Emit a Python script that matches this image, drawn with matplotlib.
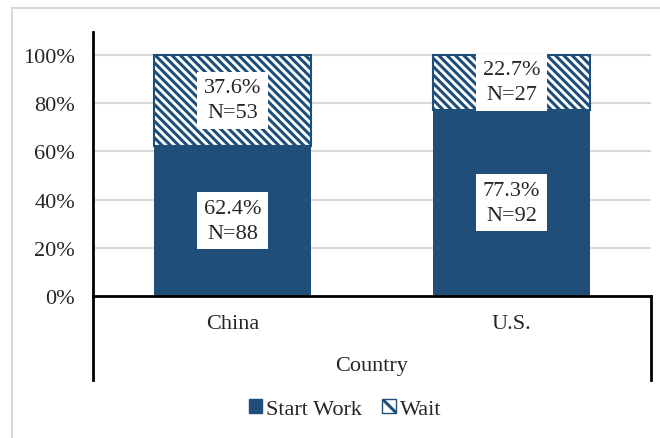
import matplotlib.pyplot as plt
import numpy as np

plt.rcParams['font.family'] = ['Liberation Serif', 'DejaVu Serif']
plt.rcParams['hatch.linewidth'] = 2.2

countries = ["China", "U.S."]
start_work = [62.4, 77.3]
wait = [37.6, 22.7]
n_start = [88, 92]
n_wait = [53, 27]
y_ticks = [0, 20, 40, 60, 80, 100]

blue = "#1F4E79"
grid_gray = "#D9D9D9"
txt = "#262626"
fs = 16

W, H = 660, 439
fig = plt.figure(figsize=[6.6, 4.39], dpi=100)

# outer chart border (top and left visible)
fig.add_artist(plt.Line2D([12 / W, 1], [1 - 9 / H, 1 - 9 / H], color=grid_gray, lw=1.5))
fig.add_artist(plt.Line2D([12 / W, 12 / W], [0, 1 - 9 / H], color=grid_gray, lw=1.5))

left, right, top, bottom = 93, 651, 33, 297
ax = fig.add_axes([left / W, 1 - bottom / H, (right - left) / W, (bottom - top) / H])

x = np.arange(len(countries))
ax.bar(x, start_work, width=0.56, color=blue, zorder=2)
ax.bar(x, wait, width=0.56, bottom=start_work, color="white", edgecolor=blue,
       hatch="\\\\\\\\", linewidth=1.5, zorder=2, label="Wait")

box = dict(boxstyle="square,pad=0.3", fc="white", ec="none")
for i in range(len(countries)):
    ax.text(x[i], start_work[i] / 2, f"{start_work[i]:.1f}%\nN={n_start[i]}",
            ha="center", va="center", fontsize=fs, color=txt, linespacing=1.4,
            bbox=box, zorder=3)
    ax.text(x[i], start_work[i] + wait[i] / 2, f"{wait[i]:.1f}%\nN={n_wait[i]}",
            ha="center", va="center", fontsize=fs, color=txt, linespacing=1.4,
            bbox=box, zorder=3)

ax.set_xlim(-0.5, len(countries) - 0.5)
ax.set_ylim(0, 109.5)
ax.set_yticks(y_ticks)
ax.set_yticklabels([f"{v}%" for v in y_ticks], fontsize=fs, color=txt)
ax.tick_params(axis="y", length=0, pad=13)
ax.set_xticks([])
for v in y_ticks[1:]:
    ax.axhline(v, color=grid_gray, lw=1.5, zorder=1)

for s in ["top", "right", "bottom", "left"]:
    ax.spines[s].set_visible(False)

# axis lines, incl. multi-level category box below the plot
ext = -(381 - bottom) / (bottom - top)
ax.plot([0, 0], [ext, 1], transform=ax.transAxes, color="black", lw=2, clip_on=False, zorder=4)
ax.plot([0, 1], [0, 0], transform=ax.transAxes, color="black", lw=2, clip_on=False, zorder=4)
ax.plot([1, 1], [ext, 0], transform=ax.transAxes, color="black", lw=2, clip_on=False, zorder=4)

for i, c in enumerate(countries):
    ax.annotate(c, xy=(x[i], 0), xycoords=("data", "axes fraction"),
                xytext=(0, -(325 - bottom) * 0.72), textcoords="offset points",
                ha="center", va="center", fontsize=fs, color=txt)
ax.annotate("Country", xy=(0.5, 0), xycoords="axes fraction",
            xytext=(0, -(367 - bottom) * 0.72), textcoords="offset points",
            ha="center", va="center", fontsize=fs, color=txt)

h1 = plt.Rectangle((0, 0), 1, 1, fc=blue, ec=blue)
h2 = plt.Rectangle((0, 0), 1, 1, fc="white", ec=blue, hatch="\\\\")
leg = fig.legend([h1, h2], ["Start Work", "Wait"], loc="center",
                 bbox_to_anchor=(345 / W, 1 - 410 / H), ncol=2, frameon=False,
                 prop=dict(family="Liberation Serif", size=fs),
                 handlelength=0.6, handleheight=0.6,
                 handletextpad=0.2, columnspacing=0.9)
for t in leg.get_texts():
    t.set_color(txt)

plt.savefig("out.png", dpi=100)
